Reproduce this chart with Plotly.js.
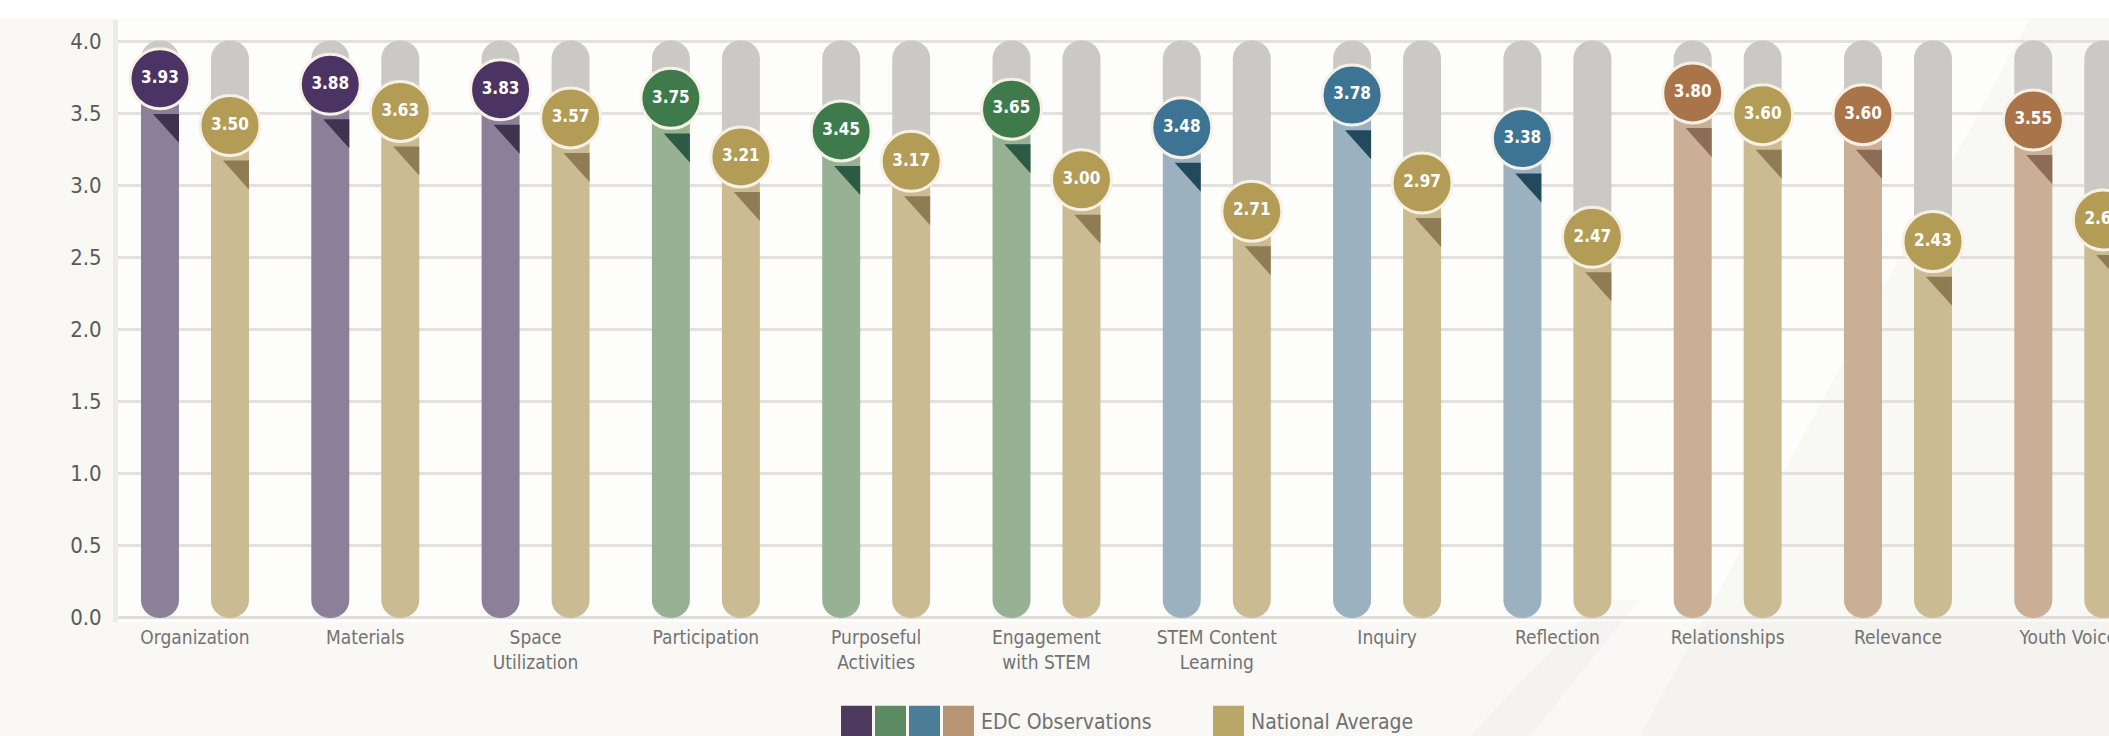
<!DOCTYPE html>
<html>
<head>
<meta charset="utf-8">
<script src="https://cdn.plot.ly/plotly-3.0.1.min.js"></script>
<style>
  html, body { margin: 0; padding: 0; background: #f9f8f5; }
  #chart { width: 2109px; height: 736px; }
</style>
</head>
<body>
<div id="chart"></div>
<script>
// ---------------- data ----------------
const categories = ['Organization', 'Materials', 'Space<br>Utilization', 'Participation',
  'Purposeful<br>Activities', 'Engagement<br>with STEM', 'STEM Content<br>Learning',
  'Inquiry', 'Reflection', 'Relationships', 'Relevance', 'Youth Voice'];
const edcValues      = [3.93, 3.88, 3.83, 3.75, 3.45, 3.65, 3.48, 3.78, 3.38, 3.80, 3.60, 3.55];
const nationalValues = [3.50, 3.63, 3.57, 3.21, 3.17, 3.00, 2.71, 2.97, 2.47, 3.60, 2.43, 2.63];
const edcGroups = ['purple', 'purple', 'purple', 'green', 'green', 'green',
  'blue', 'blue', 'blue', 'brown', 'brown', 'brown'];
const yTickVals = [0, 0.5, 1, 1.5, 2, 2.5, 3, 3.5, 4];
const yTickText = ['0.0', '0.5', '1.0', '1.5', '2.0', '2.5', '3.0', '3.5', '4.0'];
const legendNames = ['EDC Observations', 'National Average'];

// ---------------- styles / geometry ----------------
const FONT = '"Liberation Sans Narrow", "DejaVu Sans Condensed", "Roboto Condensed", Roboto, "Liberation Sans", sans-serif';
const palette = {
  purple: { bubble: '#4b3464', bar: '#8c8098', tri: '#3f3350', key: '#4d3a5e' },
  green:  { bubble: '#3e7a4c', bar: '#97b293', tri: '#2c5a44', key: '#5c8b63' },
  blue:   { bubble: '#3d7393', bar: '#9cb1c0', tri: '#23495c', key: '#4c7e98' },
  brown:  { bubble: '#a97449', bar: '#cbae96', tri: '#8b6c57', key: '#b99472' },
  gold:   { bubble: '#b39c55', bar: '#cabb92', tri: '#8f7c55', key: '#baa868' }
};
const TRACK = '#cbc9c6';
const OFF = 0.2055;       // half distance between the pair of bars
const BAR_W = 0.223;
const HALF = BAR_W / 2;
const Y2_TOP = 4.282, Y2_BOTTOM = -1.037;   // track top / bar bottom on the marker axis
const TRI_DX = 0.153, TRI_T = 0.323, TRI_B = 0.590;

const idx = categories.map((_, i) => i);
const xE = idx.map(i => i - OFF);
const xN = idx.map(i => i + OFF);

function trackTrace(xs, vals) {
  return { type: 'bar', x: xs, base: vals, y: vals.map(v => Y2_TOP - v), yaxis: 'y2',
    width: BAR_W, marker: { color: TRACK, cornerradius: '50%', line: { width: 0 } },
    hoverinfo: 'skip', showlegend: false };
}
function barTrace(xs, vals, colors) {
  return { type: 'bar', x: xs, base: vals, y: vals.map(v => Y2_BOTTOM - v), yaxis: 'y2',
    width: BAR_W, marker: { color: colors, cornerradius: '50%', line: { width: 0 } },
    hoverinfo: 'skip', showlegend: false };
}
function triTrace(xs, vals, color) {
  const X = [], Y = [];
  xs.forEach((x, i) => {
    const xr = x + HALF, v = vals[i];
    X.push(xr - TRI_DX, xr, xr, null);
    Y.push(v - TRI_T, v - TRI_T, v - TRI_B, null);
  });
  return { type: 'scatter', mode: 'lines', x: X, y: Y, yaxis: 'y2', fill: 'toself',
    fillcolor: color, line: { width: 0, color: color }, hoverinfo: 'skip', showlegend: false };
}
function bubbleTrace(xs, vals, colors) {
  return { type: 'scatter', mode: 'markers+text', x: xs, y: vals, yaxis: 'y2',
    text: vals.map(v => v.toFixed(2)), texttemplate: '<b>%{text}</b>',
    textposition: 'middle center',
    textfont: { family: FONT, size: 17, color: '#ffffff' },
    marker: { size: 60, color: colors, line: { width: 3, color: '#f6f1e4' } },
    cliponaxis: false, hoverinfo: 'skip', showlegend: false };
}

const edcBar = edcGroups.map(g => palette[g].bar);
const edcBubble = edcGroups.map(g => palette[g].bubble);
const natBar = nationalValues.map(() => palette.gold.bar);
const natBubble = nationalValues.map(() => palette.gold.bubble);

const traces = [
  // empty trace so that the score axis (y) is attached to the plot and drawn
  { type: 'scatter', mode: 'markers', x: [], y: [], yaxis: 'y', showlegend: false, hoverinfo: 'skip' },
  trackTrace(xE, edcValues),
  trackTrace(xN, nationalValues),
  barTrace(xE, edcValues, edcBar),
  barTrace(xN, nationalValues, natBar)
];
['purple', 'green', 'blue', 'brown'].forEach(g => {
  const sel = idx.filter(i => edcGroups[i] === g);
  traces.push(triTrace(sel.map(i => xE[i]), sel.map(i => edcValues[i]), palette[g].tri));
});
traces.push(triTrace(xN, nationalValues, palette.gold.tri));
traces.push(bubbleTrace(xE, edcValues, edcBubble));
traces.push(bubbleTrace(xN, nationalValues, natBubble));

// ---------------- legend (drawn as keys + text) ----------------
const PL = 118, PW = 1991, PB = 622.3, PH = 601.9;
const px = p => (p - PL) / PW;
const py = p => (PB - p) / PH;
const keyColors = [palette.purple.key, palette.green.key, palette.blue.key, palette.brown.key];
const shapes = [];
// white strip along the very top of the picture
shapes.push({ type: 'rect', xref: 'paper', yref: 'paper', layer: 'below',
  x0: px(0), x1: px(2109), y0: py(19), y1: py(-2), fillcolor: '#ffffff', line: { width: 0 } });
// faint decorative diagonal shading of the background
shapes.push({ type: 'path', xref: 'paper', yref: 'paper', layer: 'below',
  path: `M ${px(1640)} ${py(736)} L ${px(2109)} ${py(736)} L ${px(2109)} ${py(19)} L ${px(2030)} ${py(19)} Z`,
  fillcolor: 'rgba(120,118,110,0.04)', line: { width: 0 } });
shapes.push({ type: 'path', xref: 'paper', yref: 'paper', layer: 'below',
  path: `M ${px(1470)} ${py(736)} L ${px(1530)} ${py(736)} L ${px(1640)} ${py(600)} L ${px(1600)} ${py(600)} Z`,
  fillcolor: 'rgba(120,118,110,0.04)', line: { width: 0 } });
keyColors.forEach((c, k) => shapes.push({
  type: 'rect', xref: 'paper', yref: 'paper',
  x0: px(841 + k * 34), x1: px(872 + k * 34), y0: py(742), y1: py(706),
  fillcolor: c, line: { width: 0 }
}));
shapes.push({ type: 'rect', xref: 'paper', yref: 'paper',
  x0: px(1213), x1: px(1244), y0: py(742), y1: py(706), fillcolor: palette.gold.key, line: { width: 0 } });

const annotations = [
  { xref: 'paper', yref: 'paper', x: px(979), y: py(722), xanchor: 'left', yanchor: 'middle',
    text: legendNames[0], showarrow: false, font: { family: FONT, size: 21, color: '#707070' } },
  { xref: 'paper', yref: 'paper', x: px(1249), y: py(722), xanchor: 'left', yanchor: 'middle',
    text: legendNames[1], showarrow: false, font: { family: FONT, size: 21, color: '#707070' } }
];

const layout = {
  width: 2109, height: 736,
  margin: { l: PL, r: 0, t: 20.4, b: 736 - PB, pad: 0 },
  paper_bgcolor: '#f9f8f5',
  plot_bgcolor: '#fdfdfb',
  barmode: 'overlay',
  showlegend: false,
  font: { family: FONT },
  xaxis: {
    visible: true,
    range: [-0.452, 11.239], tickvals: idx, ticktext: categories,
    showgrid: false, zeroline: false, showline: false, ticks: '',
    tickfont: { family: FONT, size: 19, color: '#727272' },
    ticklabelstandoff: 2, ticklabeloverflow: 'allow', fixedrange: true
  },
  yaxis: {
    visible: true,
    range: [-0.03, 4.15], tickvals: yTickVals, ticktext: yTickText, tickmode: 'array',
    showgrid: true, gridcolor: '#e3e1dd', gridwidth: 3,
    zeroline: true, zerolinecolor: '#dfddd9', zerolinewidth: 3,
    showline: true, linecolor: '#ebebe9', linewidth: 5, ticks: '',
    tickfont: { family: FONT, size: 22, color: '#5a5a5a' },
    ticklabelstandoff: 7, fixedrange: true
  },
  yaxis2: {
    overlaying: 'y', range: [-1.075, 4.472], visible: false, fixedrange: true
  },
  shapes: shapes,
  annotations: annotations
};

Plotly.newPlot('chart', traces, layout, { displayModeBar: false, staticPlot: true });
</script>
</body>
</html>
